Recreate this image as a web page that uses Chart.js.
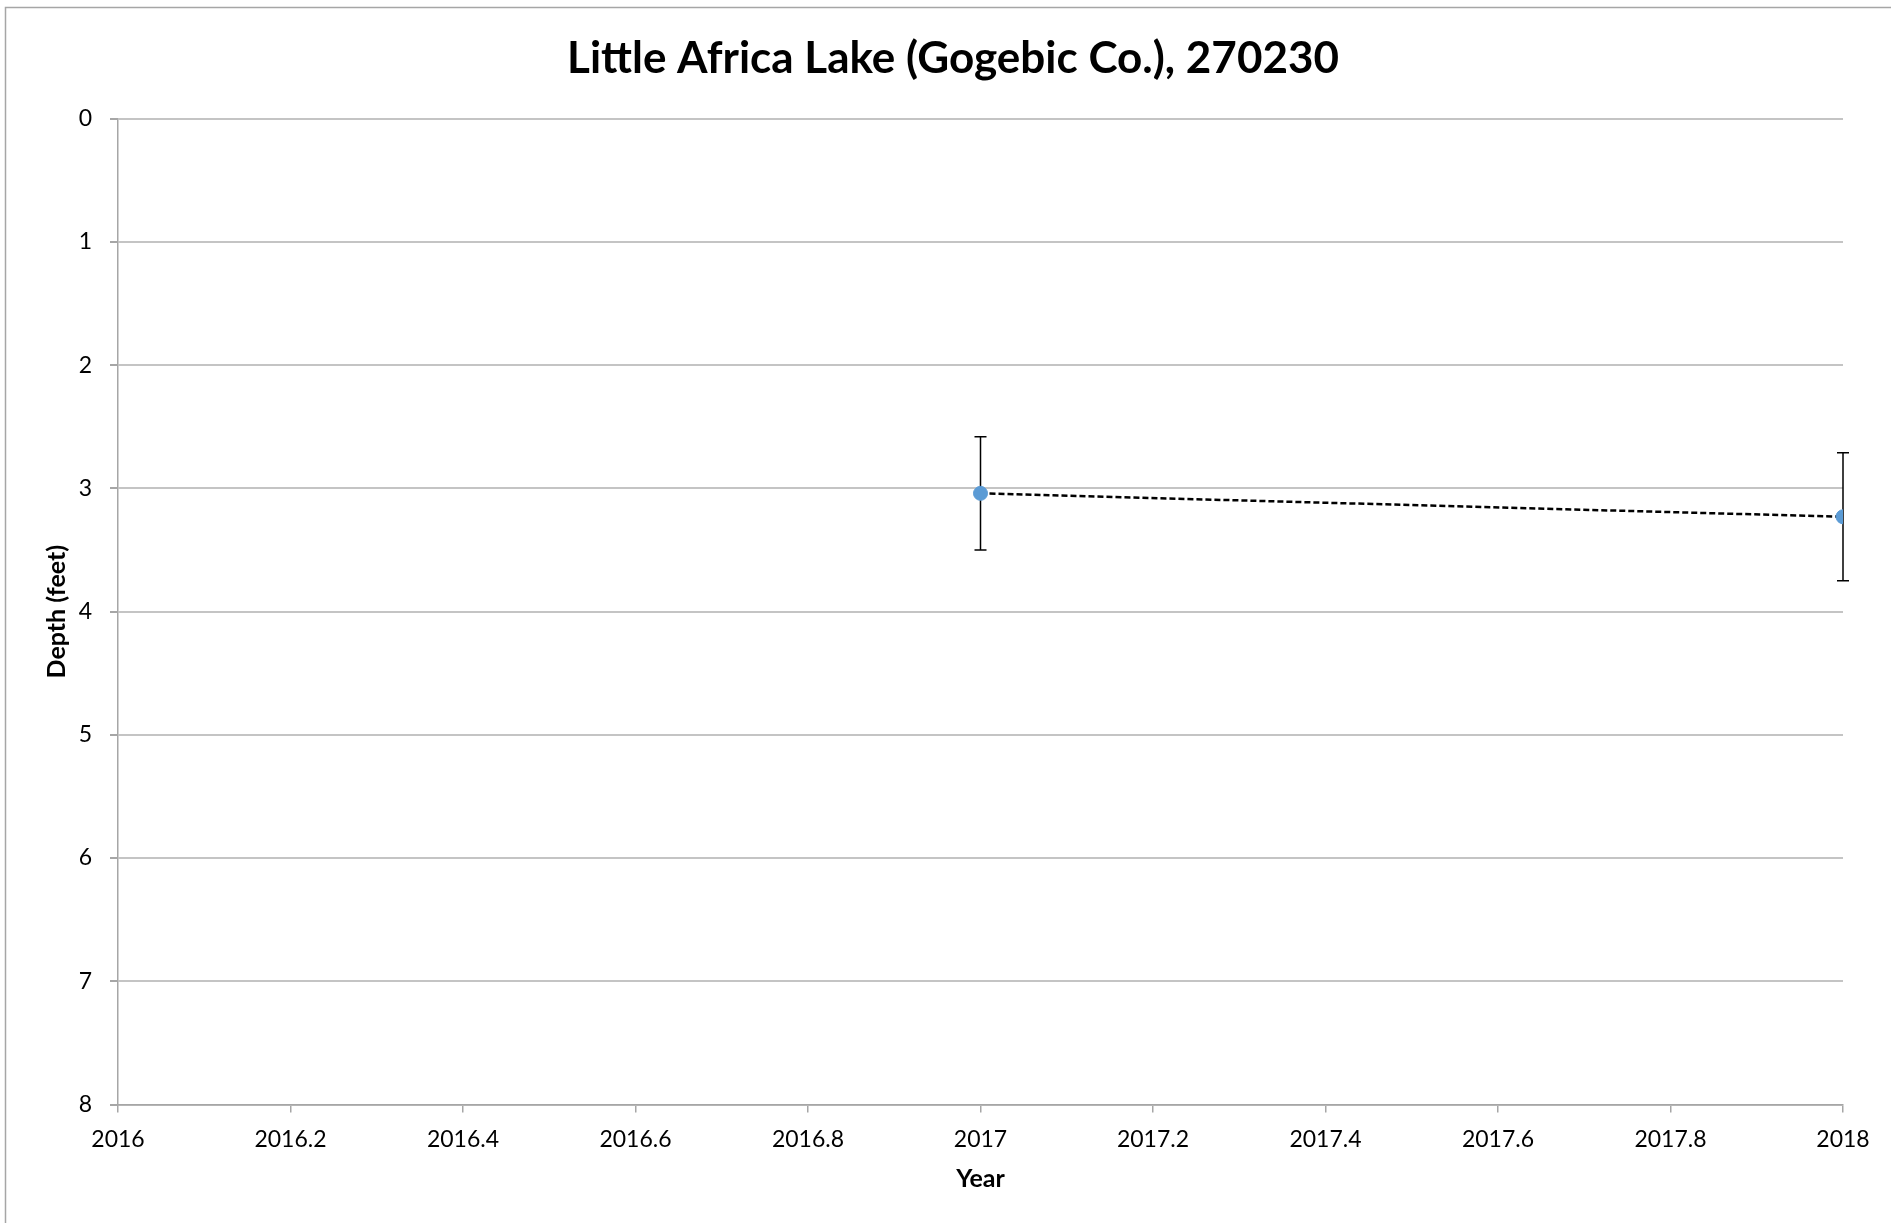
<!DOCTYPE html>
<html>
<head>
<meta charset="utf-8">
<script src="https://cdn.jsdelivr.net/npm/chart.js@4.4.1/dist/chart.umd.min.js"></script>
<style>
  body { margin: 0; background: #fff; }
  canvas { display: block; }
</style>
</head>
<body>
<canvas id="myChart" width="1891" height="1223"></canvas>
<script>
// data
var years = [2017, 2018];
var depth = [3.04, 3.23];
var errMinus = [0.46, 0.52];
var errPlus = [0.46, 0.52];
var xTickLabels = ['2016', '2016.2', '2016.4', '2016.6', '2016.8', '2017', '2017.2', '2017.4', '2017.6', '2017.8', '2018'];
var yTickLabels = ['0', '1', '2', '3', '4', '5', '6', '7', '8'];

var points = [];
for (var i = 0; i < years.length; i++) {
  points.push({ x: years[i], y: depth[i] });
}

Chart.defaults.font.family = 'Lato';
Chart.defaults.color = '#000';

// thin frame around the whole chart (only left and top edges show)
var frame = {
  id: 'frame',
  beforeDraw: function(chart) {
    var c = chart.ctx;
    c.save();
    c.strokeStyle = '#a6a6a6';
    c.lineWidth = 1.5;
    c.strokeRect(5.5, 7.5, 2000, 2000);
    c.restore();
  }
};

// vertical error bars with small caps
var errorBars = {
  id: 'errorBars',
  beforeDatasetsDraw: function(chart) {
    var c = chart.ctx;
    var xs = chart.scales.x, ys = chart.scales.y;
    c.save();
    c.strokeStyle = '#000';
    c.lineWidth = 1.5;
    for (var i = 0; i < years.length; i++) {
      var px = xs.getPixelForValue(years[i]);
      var top = ys.getPixelForValue(depth[i] - errMinus[i]);
      var bot = ys.getPixelForValue(depth[i] + errPlus[i]);
      c.beginPath();
      c.moveTo(px, top); c.lineTo(px, bot);
      c.moveTo(px - 6, top); c.lineTo(px + 6, top);
      c.moveTo(px - 6, bot); c.lineTo(px + 6, bot);
      c.stroke();
    }
    c.restore();
  }
};

var ctx = document.getElementById('myChart').getContext('2d');
var chart = new Chart(ctx, {
  type: 'scatter',
  data: {
    datasets: [{
      data: points,
      showLine: true,
      borderColor: '#000',
      borderWidth: 2.5,
      borderDash: [6, 3],
      pointRadius: 7,
      pointBackgroundColor: '#5b9bd5',
      pointBorderColor: '#5b9bd5',
      pointBorderWidth: 1
    }]
  },
  options: {
    responsive: false,
    devicePixelRatio: 1,
    animation: false,
    layout: { padding: { left: 15, right: 0, top: 0, bottom: 0 } },
    plugins: {
      legend: { display: false },
      tooltip: { enabled: false },
      title: {
        display: true,
        text: 'Little Africa Lake (Gogebic Co.), 270230',
        font: { size: 44, weight: 'bold' },
        color: '#000',
        padding: { top: 32, bottom: 34 }
      }
    },
    scales: {
      x: {
        type: 'linear',
        min: 2016,
        max: 2018,
        ticks: {
          stepSize: 0.2,
          padding: 13,
          font: { size: 23 },
          maxRotation: 0,
          autoSkip: false,
          callback: function(v, i) { return xTickLabels[i]; }
        },
        grid: { drawOnChartArea: false, color: '#a6a6a6', lineWidth: 1.5, tickLength: 8 },
        border: { color: '#a6a6a6', width: 1.5 },
        title: { display: true, text: 'Year', font: { size: 25, weight: 'bold' }, padding: { top: 0, bottom: 29 } },
        afterFit: function(scale) { scale.height = 118.5; scale.paddingRight = 48; }
      },
      y: {
        type: 'linear',
        reverse: true,
        min: 0,
        max: 8,
        ticks: {
          stepSize: 1,
          padding: 18,
          font: { size: 23 },
          callback: function(v) { return yTickLabels[Math.round(v)]; }
        },
        grid: { color: '#c4c4c4', lineWidth: 2, tickColor: '#a6a6a6', tickLength: 8 },
        border: { color: '#a6a6a6', width: 1.5 },
        title: { display: true, text: 'Depth (feet)', font: { size: 25, weight: 'bold' }, padding: { top: 27, bottom: 0 } },
        afterFit: function(scale) { scale.width = 103; }
      }
    }
  },
  plugins: [frame, errorBars]
});
</script>
</body>
</html>
